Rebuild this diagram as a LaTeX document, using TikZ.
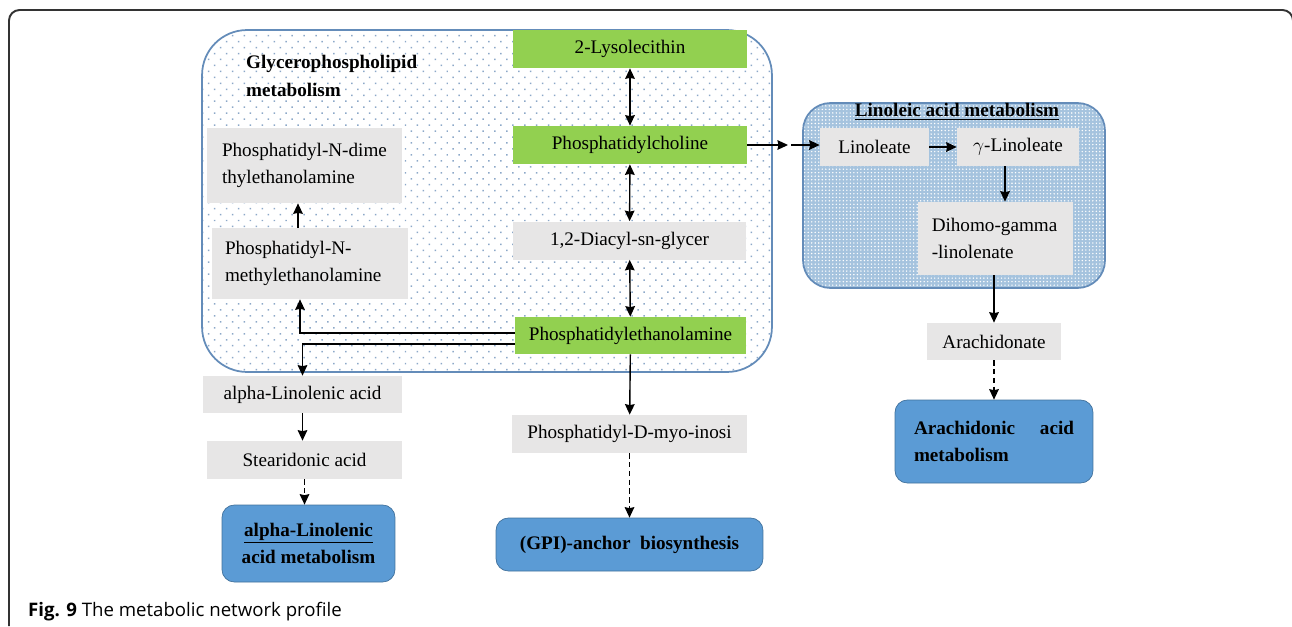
\documentclass[tikz,border=0pt]{standalone}
\usepackage{fontspec}
\setmainfont{Liberation Serif}
\newfontfamily\capfont{Open Sans}
\usetikzlibrary{patterns.meta,arrows.meta}

\definecolor{leafgreen}{RGB}{146,208,80}
\definecolor{boxgray}{RGB}{231,230,230}
\definecolor{pathblue}{RGB}{91,155,213}
\definecolor{pathedge}{RGB}{65,113,156}
\definecolor{groupedge}{RGB}{100,140,185}
\definecolor{dotblue}{RGB}{140,168,200}
\definecolor{hatchblue}{RGB}{165,195,222}

\begin{document}
\begin{tikzpicture}[font=\fontsize{10.9}{15.8}\selectfont,
    >={Stealth[length=6pt,width=5.5pt,inset=0.6pt]},x=0.02cm,y=-0.02cm]
    \tikzset{
        groupbox/.style={draw=groupedge,line width=1pt,inner sep=0pt},
        greenbox/.style={fill=leafgreen,minimum width=4.68cm,
            minimum height=0.76cm,inner sep=0pt},
        graybox/.style={fill=boxgray,minimum height=0.76cm,inner sep=0pt},
        wordbox/.style={fill=boxgray,align=left,inner ysep=0pt},
        pathbox/.style={draw=pathedge,fill=pathblue,rounded corners=7pt,
            inner sep=0pt,font=\fontsize{10.9}{15.8}\selectfont\bfseries},
        link/.style={->,thick},
        twoway/.style={<->,thick},
        hint/.style={->,thick,densely dashed}
    }
    \useasboundingbox (0,0) rectangle (1292,626);

    % frame of the figure
    \draw[line width=1.1pt,black!80,rounded corners=6pt]
        (9,626) -- (9,10) -- (1293,10) -- (1293,626);

    % the two pathway areas
    \node[groupbox,rounded corners=0.9cm,minimum width=11.4cm,minimum height=6.84cm,
        pattern={Dots[distance=4.8pt,radius=0.6pt,angle=45]},pattern color=dotblue]
        (glyco) at (487,201) {};
    \node[anchor=west,align=left,font=\fontsize{10.9}{15.8}\selectfont\bfseries]
        (glytitle) at (240,76) {Glycerophospholipid\\metabolism};

    \node[groupbox,rounded corners=0.55cm,minimum width=6.04cm,minimum height=3.7cm,
        preaction={fill=hatchblue},
        pattern={Dots[distance=2pt,radius=0.45pt]},pattern color=white]
        (linoleic) at (954,195.5) {};
    \node[font=\fontsize{10.9}{15.8}\selectfont\bfseries]
        (latitle) at (957,112) {\underline{Linoleic acid metabolism}};

    % glycerophospholipids
    \node[greenbox] (lyso) at (630,49) {2-Lysolecithin};
    \node[greenbox] (pc) at (630,145) {Phosphatidylcholine};
    \node[graybox,minimum width=4.66cm] (dag) at (629.5,240.5)
        {1,2-Diacyl-sn-glycer};
    \node[greenbox,minimum width=4.62cm,minimum height=0.74cm] (pe)
        at (630.5,335.5) {Phosphatidylethanolamine};
    \node[wordbox,text width=3.3cm,inner xsep=0.3cm,minimum height=1.5cm]
        (pndme) at (304.5,165.5)
        {Phosphatidyl-N-dime\\thylethanolamine};
    \node[wordbox,text width=3.4cm,inner xsep=0.26cm,minimum height=1.42cm]
        (pnme) at (310,263.5)
        {Phosphatidyl-N-\\methylethanolamine};

    % fatty acids
    \node[graybox,minimum width=3.98cm,minimum height=0.74cm] (ala)
        at (302.5,394.5) {alpha-Linolenic acid};
    \node[graybox,minimum width=3.9cm] (sda) at (304.5,460)
        {Stearidonic acid};
    \node[graybox,minimum width=4.7cm] (pino) at (629.5,434)
        {Phosphatidyl-D-myo-inosi};
    \node[graybox,minimum width=2.18cm] (linoleate) at (874.5,147)
        {Linoleate};
    \node[graybox,minimum width=2.44cm] (glinoleate) at (1018,147)
        {$\gamma$-Linoleate};
    \node[wordbox,text width=2.55cm,inner xsep=0.275cm,minimum height=1.46cm]
        (dgla) at (995.5,238.5) {Dihomo-gamma\\-linolenate};
    \node[graybox,minimum width=2.68cm,minimum height=0.74cm] (ara)
        at (994,341.5) {Arachidonate};

    % linked pathways
    \node[pathbox,align=center,minimum width=3.46cm,minimum height=1.54cm]
        (alam) at (308.5,543.5)
        {\underline{alpha-Linolenic}\\acid metabolism};
    \node[pathbox,minimum width=5.34cm,minimum height=1.06cm] (gpi)
        at (629.5,544.5) {(GPI)-anchor\enspace biosynthesis};
    \node[pathbox,align=left,text width=3.2cm,inner xsep=0.38cm,
        minimum height=1.66cm] (aram) at (994,441.5)
        {Arachidonic\hfill acid\\metabolism};

    % reactions
    \draw[twoway] (lyso) -- (pc);
    \draw[twoway] (pc) -- (dag);
    \draw[twoway] (dag) -- (pe);
    \draw[link] ([yshift=0.05cm]pe.west) -| ([xshift=-0.2cm]pnme.south);
    \draw[link] ([yshift=-0.17cm]pe.west) -| (ala.north);
    \draw[link] ([xshift=-0.24cm]pnme.north)
        -- ([xshift=-0.24cm]pnme.north |- pndme.south);
    \draw[link] (ala.south) -- (ala.south |- sda.north);
    \draw[hint] (sda.south) -- (sda.south |- alam.north);
    \draw[link] (pe) -- (pino);
    \draw[hint] (pino) -- (gpi);

    \coordinate (hop) at (788,145);
    \draw[link] (pc.east) -- (hop);
    \draw[link] ([xshift=0.06cm]hop) -- (linoleate.west |- hop);
    \draw[link] (linoleate) -- (glinoleate);
    \draw[link] ([xshift=-0.26cm]glinoleate.south)
        -- ([xshift=-0.26cm]glinoleate.south |- dgla.north);
    \draw[link] (ara.north |- dgla.south) -- (ara.north);
    \draw[hint] (ara) -- (aram);

    \node[anchor=west,font=\capfont\fontsize{10.6}{12}\selectfont] (caption)
        at (22,612) {\textbf{Fig. 9} The metabolic network profile};
\end{tikzpicture}
\end{document}
